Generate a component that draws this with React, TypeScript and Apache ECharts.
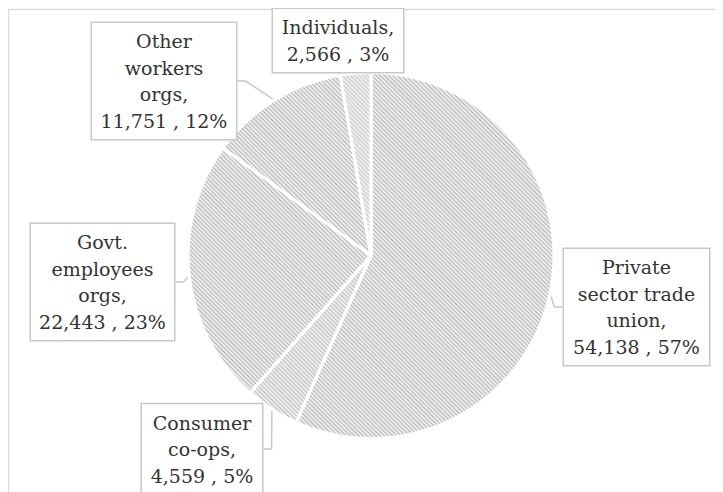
import React, { useEffect, useRef } from "react";
import * as echarts from "echarts";

const names = [
  "Private\nsector trade\nunion",
  "Consumer\nco-ops",
  "Govt.\nemployees\norgs",
  "Other\nworkers\norgs",
  "Individuals",
];
const values = [54138, 4559, 22443, 11751, 2566];

// label box layout (centre x, centre y, box width) in chart pixels
const labelBoxes = [
  [628.5, 299, 147],
  [194, 441, 122],
  [94.5, 274, 145],
  [156, 73, 146],
  [330, 32.5, 132],
];
const lineColors = ["#b4b4b4", "#b4b4b4", "#b4b4b4", "#b4b4b4", "#cdcdcd"];

export default function App() {
  const ref = useRef<HTMLDivElement>(null);
  useEffect(() => {
    if (!ref.current) return;
    const chart = echarts.init(ref.current, undefined, { renderer: "svg" });
    const data = names.map((n, i) => ({
      name: n,
      value: values[i],
      itemStyle: {
        color: "#ececec",
        decal: {
          symbol: "rect",
          color: lineColors[i],
          dashArrayX: [1, 0],
          dashArrayY: [1, 2],
          rotation: Math.PI / 4,
        },
      },
      label: { width: labelBoxes[i][2] - 10 },
    }));
    chart.setOption({
      animation: false,
      aria: { enabled: true, decal: { show: true } },
      graphic: [
        {
          type: "rect",
          shape: { x: 0.5, y: 1.5, width: 900, height: 900 },
          style: { fill: "none", stroke: "#d9d9d9", lineWidth: 1.5 },
          silent: true,
        },
      ],
      series: [
        {
          type: "pie",
          center: [363, 247.5],
          radius: 183,
          startAngle: 90,
          clockwise: true,
          percentPrecision: 0,
          itemStyle: { borderColor: "#ffffff", borderWidth: 3 },
          label: {
            show: true,
            position: "outside",
            formatter: (p: any) =>
              `${p.name},\n${Number(p.value).toLocaleString("en-US")} , ${p.percent}%`,
            fontFamily: "DejaVu Serif",
            fontSize: 19,
            lineHeight: 26.5,
            color: "#333333",
            align: "center",
            backgroundColor: "#ffffff",
            borderColor: "#c8c8c8",
            borderWidth: 1.5,
            padding: [5, 4],
          },
          labelLine: {
            show: true,
            length: 8,
            length2: 8,
            lineStyle: { color: "#c8c8c8", width: 1.5 },
          },
          labelLayout: (params: any) => {
            const b = labelBoxes[params.dataIndex];
            return {
              x: b[0],
              y: b[1],
              align: "center",
              verticalAlign: "middle",
            };
          },
          data,
        },
      ],
    });
    return () => chart.dispose();
  }, []);
  return <div ref={ref} style={{ width: 715, height: 484 }} />;
}
